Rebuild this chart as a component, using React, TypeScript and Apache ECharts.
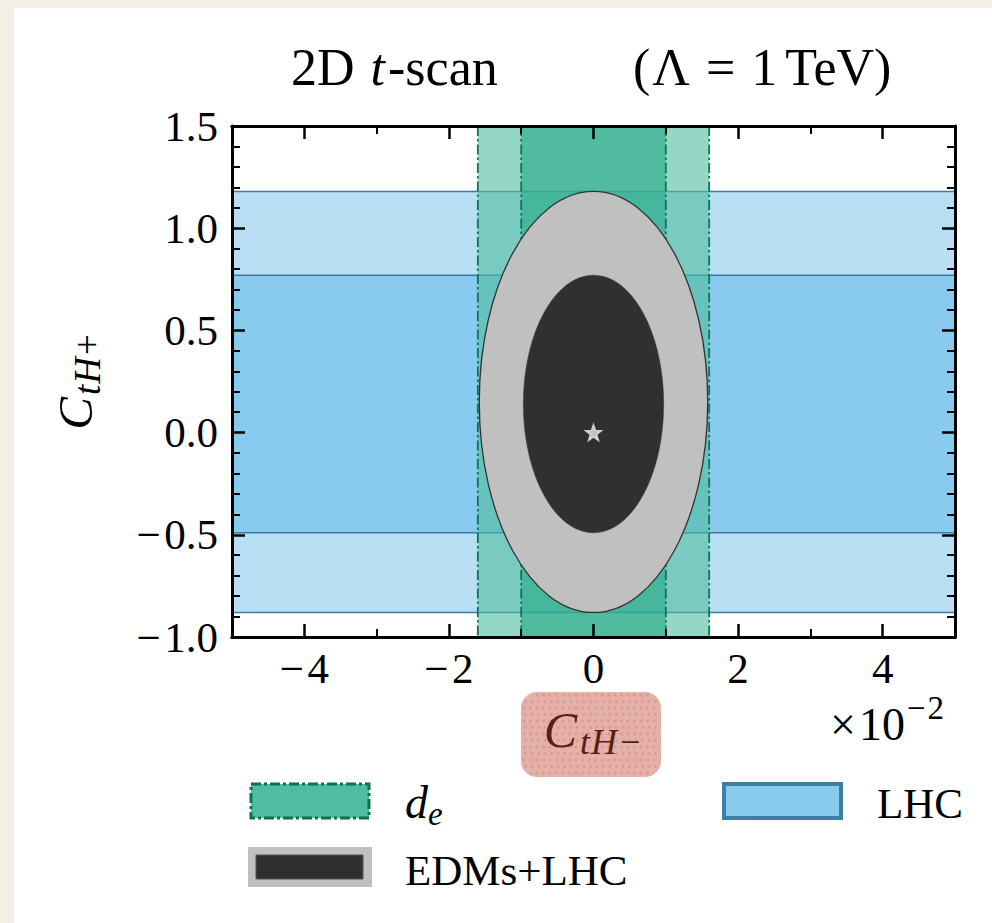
import React, { useEffect, useRef } from "react";
import * as echarts from "echarts";

// ---------------- data ----------------
const xRange = [-5, 5]; // C_tH- in units of 1e-2
const yRange = [-1.0, 1.5]; // C_tH+
const xMajorTicks = [-4, -2, 0, 2, 4];
const xMinorTicks = [-3, -1, 1, 3];
const yTickStep = 0.5;
// LHC constraint on C_tH+ : [lower, upper] (outer = 2σ, inner = 1σ)
const lhcBands = [
  [-0.88, 1.18],
  [-0.49, 0.77],
];
// electron EDM constraint on C_tH- (×1e-2): [lower, upper]
const deBands = [
  [-1.6, 1.6],
  [-1.0, 1.0],
];
// combined EDMs+LHC ellipses: [cx, cy, rx, ry]
const fitEllipses = [
  [0, 0.15, 1.58, 1.03],
  [0, 0.14, 0.97, 0.63],
];
const bestFit = [[0, 0]];

// ---------------- style ----------------
const FONT = "Liberation Serif";
const COL = {
  lhcOuter: "#b9dff5",
  lhcInner: "#89cbee",
  lhcEdge: "#3b7ca6",
  deOuter: "rgba(79,189,159,0.6)",
  deInner: "rgba(38,170,135,0.62)",
  deEdge: "#0b7656",
  ellOuter: "#c0c0c0",
  ellInner: "#303030",
  star: "#e6e6e6",
};

let mctx: CanvasRenderingContext2D | null = null;
function textWidth(t: string, size: number, italic?: boolean) {
  if (!mctx) mctx = document.createElement("canvas").getContext("2d");
  mctx!.font = `${italic ? "italic " : ""}${size}px "${FONT}"`;
  return mctx!.measureText(t).width;
}

type Piece = { t: string; s: number; i?: boolean; dy?: number; gap?: number };
function mathText(
  pieces: Piece[],
  x: number,
  base: number,
  align: "left" | "center",
  color: string
) {
  const widths = pieces.map((p) => textWidth(p.t, p.s, p.i) + (p.gap || 0));
  const total = widths.reduce((a, b) => a + b, 0);
  let cx = align === "center" ? x - total / 2 : x;
  return pieces.map((p, k) => {
    const el = {
      type: "text",
      x: cx + (p.gap || 0),
      y: base + (p.dy || 0) - 0.32 * p.s,
      z: 100,
      style: {
        text: p.t,
        fill: color,
        font: `${p.i ? "italic " : ""}${p.s}px "${FONT}"`,
        textAlign: "left",
        textVerticalAlign: "middle",
        align: "left",
        verticalAlign: "middle",
      },
    };
    cx += widths[k];
    return el;
  });
}

// dotted texture for the x-axis name box
function dotTexture(x: number, y: number, w: number, h: number, r: number) {
  const dots: any[] = [];
  const step = 6.5;
  for (let j = 0; y + 3 + j * step < y + h - 2; j++) {
    for (let i = 0; x + 3 + i * step < x + w - 2; i++) {
      const px = x + 3 + i * step + (j % 2) * 1.5;
      const py = y + 3 + j * step;
      const cxr = Math.min(Math.max(px, x + r), x + w - r);
      const cyr = Math.min(Math.max(py, y + r), y + h - r);
      if ((px - cxr) ** 2 + (py - cyr) ** 2 > (r - 2) ** 2) continue;
      dots.push({
        type: "circle",
        z: 99,
        silent: true,
        shape: { cx: px, cy: py, r: 1.5 },
        style: { fill: "rgba(196,120,112,0.35)" },
      });
    }
  }
  return dots;
}

const fmtNum = (v: number, d: number) =>
  (v < 0 ? "\u2212\u200A" : "") + Math.abs(v).toFixed(d);

function mkX(pos: string, labels: boolean, ticks: number[], len: number, w: number) {
  return {
    type: "value",
    position: pos,
    min: xRange[0],
    max: xRange[1],
    interval: 1,
    z: 10,
    axisLine: { show: true, onZero: false, lineStyle: { color: "#000", width: 3 } },
    axisTick: {
      show: true,
      inside: true,
      length: len,
      customValues: ticks,
      lineStyle: { color: "#000", width: w },
    },
    minorTick: { show: false },
    axisLabel: {
      show: labels,
      customValues: xMajorTicks,
      formatter: (v: number) => fmtNum(v, 0),
      fontFamily: FONT,
      fontSize: 43,
      color: "#000",
      margin: 10,
    },
    splitLine: { show: false },
  };
}

function mkY(pos: string, labels: boolean) {
  return {
    type: "value",
    position: pos,
    min: yRange[0],
    max: yRange[1],
    interval: yTickStep,
    z: 10,
    axisLine: { show: true, onZero: false, lineStyle: { color: "#000", width: 3 } },
    axisTick: { show: true, inside: true, length: 13, lineStyle: { color: "#000", width: 2.5 } },
    minorTick: { show: true, splitNumber: 5, length: 8, lineStyle: { color: "#000", width: 2 } },
    axisLabel: {
      show: labels,
      formatter: (v: number) => fmtNum(v, 1),
      fontFamily: FONT,
      fontSize: 43,
      color: "#000",
      margin: 14,
    },
    splitLine: { show: false },
    minorSplitLine: { show: false },
  };
}

export default function App() {
  const ref = useRef<HTMLDivElement>(null);
  useEffect(() => {
    if (!ref.current) return;
    const chart = echarts.init(ref.current, undefined, { renderer: "svg" });

    const yLabel = {
      type: "group",
      x: 91,
      y: 382,
      rotation: Math.PI / 2,
      z: 100,
      children: mathText(
        [
          { t: "C", s: 49, i: true },
          { t: "t", s: 37, i: true, dy: 8, gap: 2 },
          { t: "H", s: 37, i: true, dy: 8, gap: 1 },
          { t: "+", s: 37, dy: 8, gap: 2 },
        ],
        0,
        0,
        "center",
        "#000"
      ),
    };

    const boxX = 521, boxY = 692, boxW = 140, boxH = 85, boxR = 16;

    const graphic: any[] = [
      // title
      ...mathText(
        [
          { t: "2D", s: 52 },
          { t: "t", s: 52, i: true, gap: 16 },
          { t: "-scan", s: 52, gap: 3 },
        ],
        291,
        84,
        "left",
        "#000"
      ),
      ...mathText(
        [
          { t: "(", s: 52 },
          { t: "\u039B", s: 52, gap: 2 },
          { t: "=", s: 52, gap: 16 },
          { t: "1", s: 52, gap: 16 },
          { t: "TeV", s: 52, gap: 8 },
          { t: ")", s: 52 },
        ],
        633,
        84,
        "left",
        "#000"
      ),
      yLabel,
      // x-axis name box
      {
        type: "rect",
        z: 98,
        shape: { x: boxX, y: boxY, width: boxW, height: boxH, r: boxR },
        style: { fill: "#e5b0a8" },
      },
      ...dotTexture(boxX, boxY, boxW, boxH, boxR),
      ...mathText(
        [
          { t: "C", s: 50, i: true },
          { t: "t", s: 36, i: true, dy: 8, gap: 3 },
          { t: "H", s: 36, i: true, dy: 8, gap: 1 },
          { t: "\u2212", s: 36, dy: 8, gap: 3 },
        ],
        592,
        746,
        "center",
        "#5a1e1a"
      ),
      // ×10^-2
      ...mathText(
        [
          { t: "\u00D7", s: 46 },
          { t: "10", s: 46, gap: 3 },
          { t: "\u2212", s: 33, dy: -20, gap: 2 },
          { t: "2", s: 33, dy: -20, gap: 2 },
        ],
        830,
        739,
        "left",
        "#000"
      ),
      // legend
      {
        type: "rect",
        z: 100,
        shape: { x: 251, y: 784, width: 118, height: 34 },
        style: { fill: "#4fbd9f", stroke: "#0b7353", lineWidth: 3, lineDash: [10, 3, 3, 3] },
      },
      ...mathText(
        [
          { t: "d", s: 46, i: true },
          { t: "e", s: 33, i: true, dy: 8 },
        ],
        405,
        817,
        "left",
        "#000"
      ),
      {
        type: "rect",
        z: 100,
        shape: { x: 248, y: 847, width: 124, height: 40 },
        style: { fill: "#c0c0c0" },
      },
      {
        type: "rect",
        z: 101,
        shape: { x: 256, y: 855, width: 107, height: 24 },
        style: { fill: "#303030", stroke: "#555", lineWidth: 1 },
      },
      ...mathText([{ t: "EDMs+LHC", s: 43 }], 405, 884, "left", "#000"),
      {
        type: "rect",
        z: 100,
        shape: { x: 724, y: 784, width: 117, height: 34 },
        style: { fill: "#89cbee", stroke: "#3e7ea6", lineWidth: 4 },
      },
      ...mathText([{ t: "LHC", s: 43 }], 877, 817, "left", "#000"),
    ];

    const option: any = {
      animation: false,
      grid: { left: 232, top: 126, width: 723, height: 511, containLabel: false },
      xAxis: [
        mkX("bottom", true, xMajorTicks, 13, 2.5),
        mkX("bottom", false, xMinorTicks, 8, 2),
        mkX("top", false, xMajorTicks, 13, 2.5),
        mkX("top", false, xMinorTicks, 8, 2),
      ],
      yAxis: [mkY("left", true), mkY("right", false)],
      graphic,
      series: [
        {
          type: "custom",
          name: "LHC",
          xAxisIndex: 0,
          yAxisIndex: 0,
          z: 1,
          clip: true,
          data: lhcBands.map((b, i) => [b[0], b[1], i]),
          renderItem: (params: any, api: any) => {
            const y0 = api.value(0);
            const y1 = api.value(1);
            const i = api.value(2);
            const tl = api.coord([xRange[0], y1]);
            const br = api.coord([xRange[1], y0]);
            return {
              type: "group",
              children: [
                {
                  type: "rect",
                  shape: { x: tl[0], y: tl[1], width: br[0] - tl[0], height: br[1] - tl[1] },
                  style: { fill: i === 0 ? COL.lhcOuter : COL.lhcInner },
                },
                {
                  type: "line",
                  shape: { x1: tl[0], y1: tl[1], x2: br[0], y2: tl[1] },
                  style: { stroke: COL.lhcEdge, lineWidth: 1.5 },
                },
                {
                  type: "line",
                  shape: { x1: tl[0], y1: br[1], x2: br[0], y2: br[1] },
                  style: { stroke: COL.lhcEdge, lineWidth: 1.5 },
                },
              ],
            };
          },
        },
        {
          type: "custom",
          name: "de",
          xAxisIndex: 0,
          yAxisIndex: 0,
          z: 2,
          clip: true,
          data: deBands.map((b, i) => [b[0], b[1], i]),
          renderItem: (params: any, api: any) => {
            const x0 = api.value(0);
            const x1 = api.value(1);
            const i = api.value(2);
            const tl = api.coord([x0, yRange[1]]);
            const br = api.coord([x1, yRange[0]]);
            const dash = [10, 3, 2.5, 3];
            return {
              type: "group",
              children: [
                {
                  type: "rect",
                  shape: { x: tl[0], y: tl[1], width: br[0] - tl[0], height: br[1] - tl[1] },
                  style: { fill: i === 0 ? COL.deOuter : COL.deInner },
                },
                {
                  type: "line",
                  shape: { x1: tl[0], y1: tl[1], x2: tl[0], y2: br[1] },
                  style: { stroke: COL.deEdge, lineWidth: 1.8, lineDash: dash },
                },
                {
                  type: "line",
                  shape: { x1: br[0], y1: tl[1], x2: br[0], y2: br[1] },
                  style: { stroke: COL.deEdge, lineWidth: 1.8, lineDash: dash },
                },
              ],
            };
          },
        },
        {
          type: "custom",
          name: "EDMs+LHC",
          xAxisIndex: 0,
          yAxisIndex: 0,
          z: 3,
          clip: true,
          data: fitEllipses.map((e, i) => [e[0], e[1], e[2], e[3], i]),
          renderItem: (params: any, api: any) => {
            const c = api.coord([api.value(0), api.value(1)]);
            const s = api.size([api.value(2), api.value(3)]);
            const i = api.value(4);
            return {
              type: "ellipse",
              shape: { cx: c[0], cy: c[1], rx: s[0], ry: s[1] },
              style:
                i === 0
                  ? { fill: COL.ellOuter, stroke: "#333", lineWidth: 1.3 }
                  : { fill: COL.ellInner, stroke: COL.ellInner, lineWidth: 0.5 },
            };
          },
        },
        {
          type: "scatter",
          name: "best fit",
          xAxisIndex: 0,
          yAxisIndex: 0,
          z: 4,
          data: bestFit,
          symbol:
            "path://M50,2 L62,36 L98,37 L69,58 L80,94 L50,73 L20,94 L31,58 L2,37 L38,36 Z",
          symbolSize: 16,
          itemStyle: { color: COL.star, borderColor: COL.star, borderWidth: 1.5 },
        },
      ],
    };
    chart.setOption(option);
    return () => chart.dispose();
  }, []);

  return (
    <div
      style={{
        position: "absolute",
        left: 0,
        top: 0,
        width: 992,
        height: 923,
        background: "#f3efe7",
        overflow: "hidden",
      }}
    >
      <div
        style={{
          position: "absolute",
          left: 14,
          top: 8,
          width: 978,
          height: 915,
          background: "#ffffff",
        }}
      />
      <div
        ref={ref}
        style={{ position: "absolute", left: 0, top: 0, width: 992, height: 923 }}
      />
    </div>
  );
}
